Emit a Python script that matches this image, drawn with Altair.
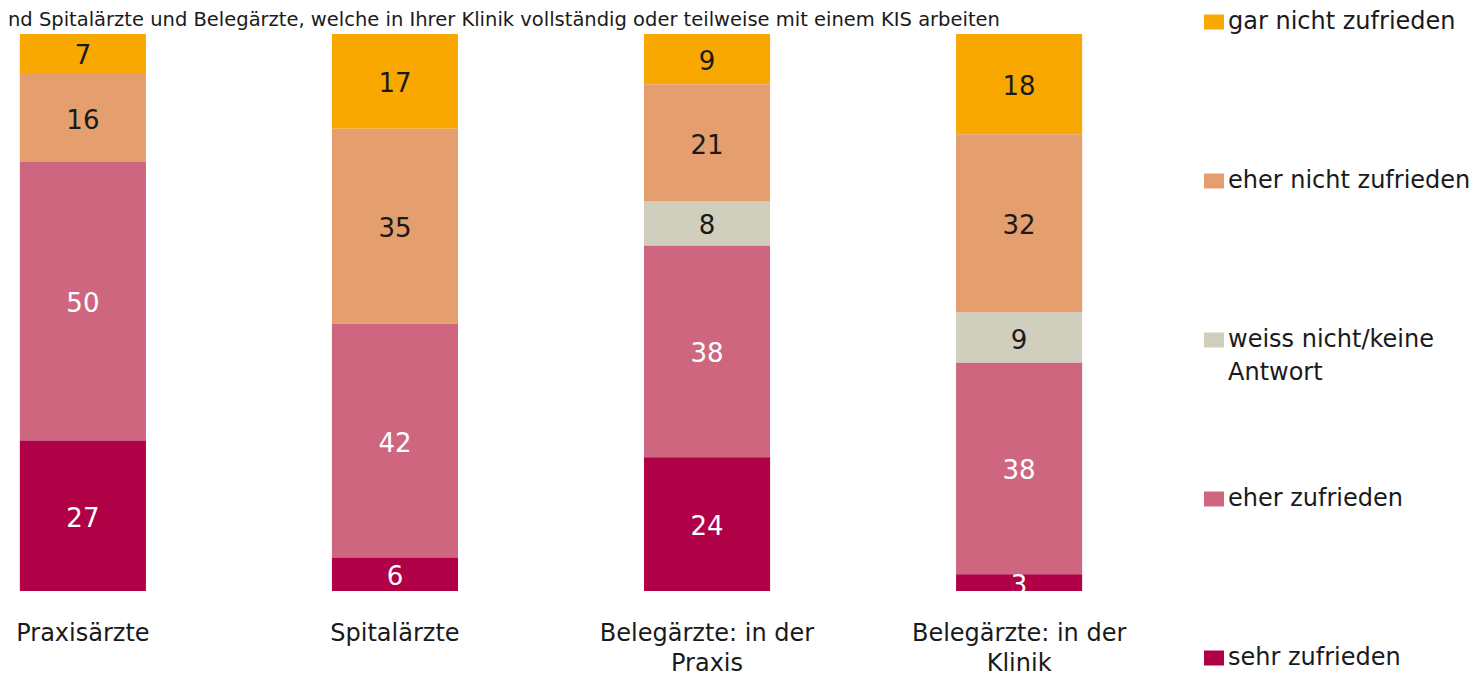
import altair as alt
import pandas as pd

# ---- data ----
categories = ["Praxisärzte", "Spitalärzte", "Belegärzte: in der|Praxis", "Belegärzte: in der|Klinik"]
levels = ["gar nicht zufrieden", "eher nicht zufrieden", "weiss nicht/keine Antwort",
          "eher zufrieden", "sehr zufrieden"]
colors = ["#F8A800", "#E59E6E", "#D0CEBC", "#CE6680", "#B00046"]
gar_nicht = [7, 17, 9, 18]
eher_nicht = [16, 35, 21, 32]
weiss_nicht = [0, 0, 8, 9]
eher_zufrieden = [50, 42, 38, 38]
sehr_zufrieden = [27, 6, 24, 3]
light_text_levels = ["eher zufrieden", "sehr zufrieden"]
title_text = ["nd Spitalärzte und Belegärzte, welche in Ihrer Klinik vollständig "
              "oder teilweise mit einem KIS arbeiten"]

FONT = "DejaVu Sans"
DARK = "#1a1a1a"

series = [gar_nicht, eher_nicht, weiss_nicht, eher_zufrieden, sehr_zufrieden]
rows = []
for li, (lev, vals) in enumerate(zip(levels, series)):
    for cat, v in zip(categories, vals):
        if v > 0:
            rows.append({"cat": cat, "level": lev, "value": v,
                         "ord": len(levels) - 1 - li,
                         "light": lev in light_text_levels})
df = pd.DataFrame(rows)

base = alt.Chart(df).transform_stack(
    stack="value", as_=["y0", "y1"], groupby=["cat"],
    sort=[alt.SortField("ord", order="ascending")]
).transform_calculate(mid="(datum.y0 + datum.y1) / 2")

x_enc = alt.X(
    "cat:N", sort=categories,
    scale=alt.Scale(paddingInner=0.596, paddingOuter=0.038),
    axis=alt.Axis(title=None, labelExpr="split(datum.label, '|')", labelAngle=0,
                  ticks=False, domain=False, grid=False, tickSize=0,
                  labelPadding=30, labelFontSize=24, labelFont=FONT, labelLimit=400,
                  labelColor=DARK, labelLineHeight=30, labelBaseline="top"),
)
y_scale = alt.Scale(domain=[0, 100], nice=False, zero=True)

legend_expr = ("datum.label == 'weiss nicht/keine Antwort' ? "
               "['weiss nicht/keine', 'Antwort'] : [datum.label, '']")

bars = base.mark_bar().encode(
    x=x_enc,
    y=alt.Y("y0:Q", scale=y_scale, axis=None),
    y2="y1:Q",
    color=alt.Color(
        "level:N",
        scale=alt.Scale(domain=levels, range=colors),
        legend=alt.Legend(
            title=None, orient="none", legendX=1194, legendY=-24,
            symbolType="M-1,-0.75L1,-0.75L1,0.75L-1,0.75Z", symbolSize=400,
            symbolStrokeWidth=0, symbolOpacity=1, symbolOffset=0,
            labelFontSize=24, labelFont=FONT, labelColor=DARK, labelOffset=2,
            labelExpr=legend_expr, labelLimit=400, rowPadding=102, padding=0,
        ),
    ),
)

labels = base.mark_text(fontSize=26, font=FONT, baseline="middle", dy=3).encode(
    x=alt.X("cat:N", sort=categories),
    y=alt.Y("mid:Q", scale=y_scale),
    text="value:Q",
    color=alt.condition("datum.light", alt.value("white"), alt.value(DARK)),
)

title = alt.Chart(pd.DataFrame({"t": title_text})).mark_text(
    align="left", baseline="alphabetic", fontSize=19.5, font=FONT, color=DARK
).encode(text="t:N", x=alt.value(0), y=alt.value(-8))

chart = alt.layer(bars, labels, title).properties(
    width=1086, height=557,
    padding={"left": 0, "top": 26, "right": 379, "bottom": 86},
    autosize=alt.AutoSizeParams(type="none"),
).configure(
    style={"guide-label": {"lineHeight": 33}}
).configure_view(stroke=None)

chart.save("out.html", embed_options={"renderer": "svg", "actions": False})
